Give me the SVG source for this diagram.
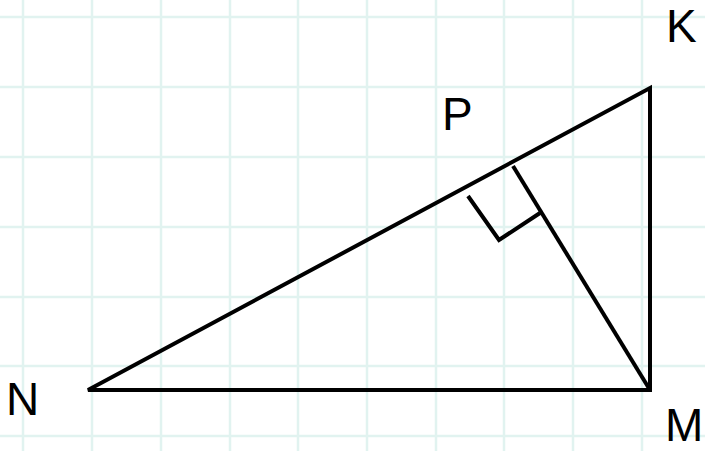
<svg xmlns="http://www.w3.org/2000/svg" width="705" height="451" viewBox="0 0 705 451">
<style>
.grid line{stroke:#e1f3f0;stroke-width:2.5}
.shape{stroke:#000;stroke-width:4;fill:none;stroke-linejoin:miter;stroke-linecap:butt}
.lbl{font-family:"Liberation Sans",Arial,sans-serif;font-size:46px;fill:#000}
</style>
<rect width="705" height="451" fill="#fff"/>
<g class="grid">
<line x1="23" y1="0" x2="23" y2="451"/>
<line x1="92" y1="0" x2="92" y2="451"/>
<line x1="161" y1="0" x2="161" y2="451"/>
<line x1="230" y1="0" x2="230" y2="451"/>
<line x1="298" y1="0" x2="298" y2="451"/>
<line x1="367" y1="0" x2="367" y2="451"/>
<line x1="436" y1="0" x2="436" y2="451"/>
<line x1="504" y1="0" x2="504" y2="451"/>
<line x1="573" y1="0" x2="573" y2="451"/>
<line x1="642" y1="0" x2="642" y2="451"/>
<line x1="0" y1="17" x2="705" y2="17"/>
<line x1="0" y1="87" x2="705" y2="87"/>
<line x1="0" y1="157" x2="705" y2="157"/>
<line x1="0" y1="227" x2="705" y2="227"/>
<line x1="0" y1="297" x2="705" y2="297"/>
<line x1="0" y1="366" x2="705" y2="366"/>
<line x1="0" y1="436" x2="705" y2="436"/>
</g>
<g id="connectors">
<polygon class="shape" points="88,390 650,88 650,390"/>
<line class="shape" x1="513" y1="166" x2="650" y2="390"/>
<polyline class="shape" points="468,196 499,240 540,213"/>
</g>
<g id="node-K"><text class="lbl" x="666" y="42">K</text></g>
<g id="node-P"><text class="lbl" x="442" y="130">P</text></g>
<g id="node-N"><text class="lbl" x="6" y="415">N</text></g>
<g id="node-M"><text class="lbl" x="665" y="441">M</text></g>
</svg>
